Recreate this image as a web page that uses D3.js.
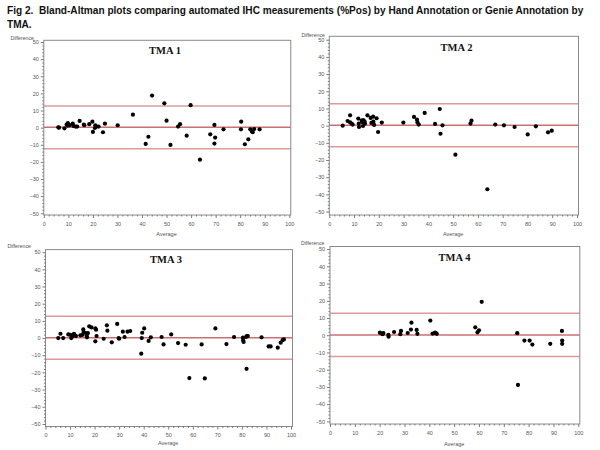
<!DOCTYPE html>
<html>
<head>
<meta charset="utf-8">
<script src="https://cdn.jsdelivr.net/npm/d3@7"></script>
<style>
  html, body { margin: 0; padding: 0; background: #fff; }
  svg { display: block; }
</style>
</head>
<body>
<svg id="chart" width="600" height="450"></svg>
<script>
// ---------------- DATA ----------------
const figTitleLines = [
  "Fig 2.  Bland-Altman plots comparing automated IHC measurements (%Pos) by Hand Annotation or Genie Annotation by",
  "TMA."
];
const panelTitles = ["TMA 1", "TMA 2", "TMA 3", "TMA 4"];
const xTicks = [0, 10, 20, 30, 40, 50, 60, 70, 80, 90, 100];
const yTicks = [-50, -40, -30, -20, -10, 0, 10, 20, 30, 40, 50];
const xLabel = "Average";
const yLabel = "Difference";
// reference lines: upper limit, mean difference, lower limit
const refLines = [12.7, 0.2, -12.3];

// [average, difference]
const tma1Points = [
  [5.9,0.2],[6.2,0.0],[8.4,-0.4],[9.3,1.8],[9.8,2.6],[9.7,1.2],[10.2,1.8],[10.5,1.4],
  [11.8,2.3],[12.1,1.0],[12.9,0.6],[13.6,0.6],[14.6,3.9],[16.3,1.8],[16.5,1.4],[18.5,2.0],
  [19.8,3.5],[20.0,-2.5],[21.0,1.4],[20.8,-0.2],[21.4,0.6],[22.3,0.6],[24.1,-2.7],[24.9,2.3],
  [30.1,1.4],[36.3,7.6],[41.5,-9.5],[42.6,-5.3],[44.1,18.7],[49.1,14.2],[50.0,4.1],[51.6,-10.1],
  [54.7,0.6],[55.5,2.0],[58.2,-4.7],[59.8,13.1],[63.6,-18.7],[67.8,-3.9],[69.5,1.6],[69.8,-5.8],
  [69.5,-9.3],[73.2,-1.0],[80.4,3.5],[80.3,-1.0],[81.9,-9.7],[83.3,-6.8],[84.1,-1.0],[84.8,-2.2],
  [85.1,-2.7],[85.7,-0.8],[87.9,-1.0]
];
const tma2Points = [
  [5.4,0.0],[7.4,2.7],[8.4,6.0],[8.4,1.9],[9.0,1.2],[9.4,0.6],[11.7,4.1],[11.9,1.2],[12.0,-0.8],
  [13.1,2.9],[13.3,2.1],[13.6,-0.2],[13.7,3.3],[14.2,2.5],[14.4,1.2],[15.4,6.0],[16.7,4.5],
  [17.0,1.6],[17.7,5.3],[17.8,2.3],[18.1,0.4],[19.1,4.3],[19.7,-3.7],[21.2,1.8],[29.9,1.8],
  [34.2,5.1],[35.4,3.5],[35.6,1.9],[36.1,0.6],[38.5,7.4],[42.7,1.0],[44.6,9.7],[44.9,-4.7],
  [45.7,0.2],[50.9,-16.9],[57.0,1.2],[57.4,2.9],[63.8,-37.0],[67.0,0.6],[70.5,0.2],[74.8,-0.8],
  [80.1,-5.1],[83.4,-0.4],[88.3,-3.9],[89.8,-2.9]
];
const tma3Points = [
  [5.2,0.0],[6.1,2.5],[7.2,0.0],[9.3,2.1],[10.1,1.9],[10.5,0.0],[10.9,1.0],[11.6,2.5],[12.0,1.6],
  [12.4,1.2],[14.2,1.6],[15.1,1.9],[15.4,5.0],[15.5,3.5],[16.5,2.9],[16.8,1.2],[16.9,0.4],
  [17.3,2.9],[17.8,6.8],[18.7,6.2],[20.3,5.6],[20.6,4.9],[20.3,-1.9],[20.8,1.2],[23.7,-0.4],
  [25.0,7.4],[25.2,4.3],[27.0,-2.5],[29.2,8.2],[29.8,0.0],[30.0,-0.4],[31.5,3.7],[32.2,0.6],
  [33.4,3.7],[34.5,4.1],[39.0,-9.1],[39.2,0.0],[39.4,3.1],[40.2,5.6],[42.0,-1.7],[42.9,0.4],
  [47.3,0.6],[48.1,-3.7],[51.2,2.1],[54.0,-2.9],[57.1,-3.9],[58.6,-23.3],[63.6,-3.7],[64.9,-23.5],
  [69.2,5.6],[73.7,-3.5],[76.8,0.6],[80.4,0.2],[80.5,-1.4],[80.7,-2.3],[81.7,0.6],[82.0,1.2],
  [82.4,1.2],[81.9,-17.9],[88.0,0.4],[90.9,-4.9],[91.7,-4.9],[94.6,-5.6],[95.8,-2.7],[96.6,-1.2],
  [97.1,-0.8]
];
const tma4Points = [
  [20.1,1.5],[20.9,1.0],[21.2,0.6],[21.5,1.3],[23.5,0.2],[23.6,-0.8],[25.8,1.9],[28.3,0.6],
  [28.6,2.5],[31.3,1.3],[32.6,3.3],[32.8,7.3],[34.9,3.1],[35.2,0.8],[40.4,8.5],[41.3,1.0],
  [42.3,1.5],[42.6,1.3],[43.0,0.8],[58.5,4.6],[59.4,1.7],[60.0,2.9],[61.1,19.4],[75.4,1.2],
  [75.7,-28.8],[78.3,-3.1],[80.4,-3.1],[81.5,-5.4],[88.7,-5.0],[93.4,2.5],[93.5,-3.1],[93.5,-5.0]
];
const panelPoints = [tma1Points, tma2Points, tma3Points, tma4Points];

// ---------------- LAYOUT ----------------
const layouts = [
  { left: 43.8, right: 289.3, top: 40.3, bottom: 215.0, yMax: 51.0, titleX: 165, titleY: 53.5, xLabY: 236, yLabX: 34, yLabY: 40 },
  { left: 329.3, right: 577.0, top: 36.3, bottom: 215.0, yMax: 52.0, titleX: 456.5, titleY: 51, xLabY: 236, yLabX: 325, yLabY: 37 },
  { left: 45.5, right: 291.0, top: 249.6, bottom: 426.5, yMax: 51.5, titleX: 166, titleY: 263, xLabY: 445, yLabX: 31, yLabY: 248 },
  { left: 330.0, right: 578.3, top: 246.5, bottom: 424.0, yMax: 51.5, titleX: 454.5, titleY: 261, xLabY: 446, yLabX: 324.5, yLabY: 245 }
];

const svg = d3.select("#chart");
const axisColor = "#7a7a7a";
const labelColor = "#555";
const sans = "'Liberation Sans', Arial, sans-serif";

// Figure title
svg.append("g").selectAll("text").data(figTitleLines).join("text")
  .attr("x", 7)
  .attr("y", (d, i) => 14 + i * 14)
  .attr("font-family", sans)
  .attr("font-weight", "bold")
  .attr("font-size", 10.1)
  .attr("fill", "#111")
  .style("white-space", "pre")
  .text(d => d);

panelPoints.forEach((pts, i) => {
  const L = layouts[i];
  const x = d3.scaleLinear().domain([0, 100]).range([L.left, L.right]);
  const y = d3.scaleLinear().domain([-L.yMax, L.yMax]).range([L.bottom, L.top]);
  const frameRight = x(100.6);
  const g = svg.append("g");

  // reference lines
  g.selectAll("line.ref").data(refLines).join("line")
    .attr("class", "ref")
    .attr("x1", L.left).attr("x2", frameRight)
    .attr("y1", d => y(d)).attr("y2", d => y(d))
    .attr("stroke", (d, j) => j === 1 ? "#cc6f6f" : "#e09a9a")
    .attr("stroke-width", 1.5);

  // frame
  g.append("rect")
    .attr("x", L.left).attr("y", L.top)
    .attr("width", frameRight - L.left).attr("height", L.bottom - L.top)
    .attr("fill", "none").attr("stroke", "#8a8a8a").attr("stroke-width", 1);

  // minor ticks
  const minorX = d3.range(0, 101, 2).filter(v => v % 10 !== 0);
  const minorY = d3.range(-50, 51, 2).filter(v => v % 10 !== 0);
  const gmx = g.append("g").attr("transform", `translate(0,${L.bottom})`)
    .call(d3.axisBottom(x).tickValues(minorX).tickSize(1.5).tickFormat(""));
  const gmy = g.append("g").attr("transform", `translate(${L.left},0)`)
    .call(d3.axisLeft(y).tickValues(minorY).tickSize(1.5).tickFormat(""));
  [gmx, gmy].forEach(a => { a.select(".domain").remove(); a.selectAll("line").attr("stroke", axisColor); });

  // major axes
  const gx = g.append("g").attr("transform", `translate(0,${L.bottom})`)
    .call(d3.axisBottom(x).tickValues(xTicks).tickSize(3).tickPadding(4));
  const gy = g.append("g").attr("transform", `translate(${L.left},0)`)
    .call(d3.axisLeft(y).tickValues(yTicks).tickSize(3).tickPadding(2));
  [gx, gy].forEach(a => {
    a.select(".domain").remove();
    a.selectAll("line").attr("stroke", axisColor);
    a.selectAll("text").attr("font-family", sans).attr("font-size", 5.5).attr("fill", labelColor);
  });

  // axis labels
  g.append("text")
    .attr("x", (L.left + L.right) / 2).attr("y", L.xLabY)
    .attr("text-anchor", "middle")
    .attr("font-family", sans).attr("font-size", 5.5).attr("fill", labelColor)
    .text(xLabel);
  g.append("text")
    .attr("x", L.yLabX).attr("y", L.yLabY)
    .attr("text-anchor", "end")
    .attr("font-family", sans).attr("font-size", 5.2).attr("fill", labelColor)
    .text(yLabel);

  // panel title
  g.append("text")
    .attr("x", L.titleX).attr("y", L.titleY)
    .attr("text-anchor", "middle")
    .attr("font-family", "'Liberation Serif', 'Times New Roman', serif")
    .attr("font-weight", "bold").attr("font-size", 10.5).attr("fill", "#111")
    .text(panelTitles[i]);

  // points
  g.selectAll("circle").data(pts).join("circle")
    .attr("cx", d => x(d[0])).attr("cy", d => y(d[1]))
    .attr("r", 2.1).attr("fill", "#000");
});
</script>
</body>
</html>
